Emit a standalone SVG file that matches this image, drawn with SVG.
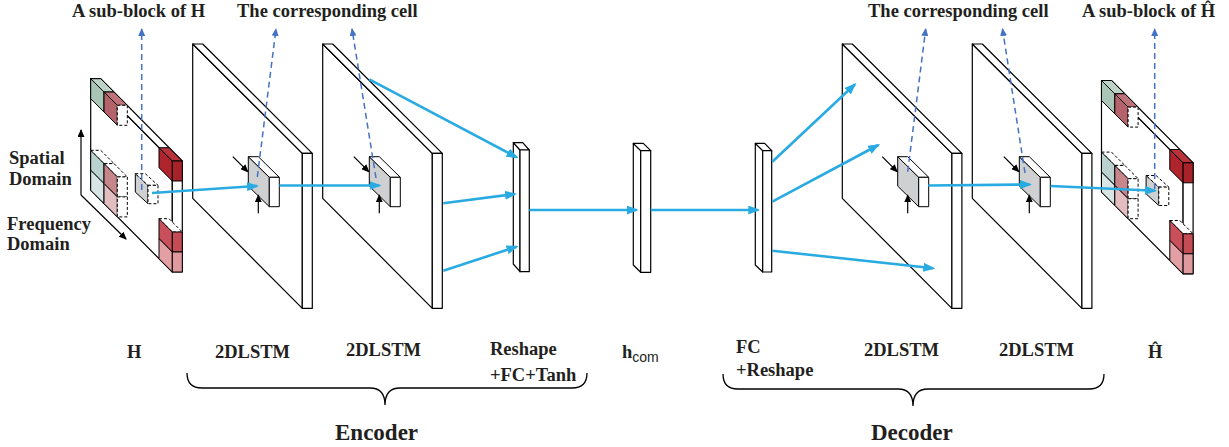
<svg xmlns="http://www.w3.org/2000/svg" width="1229" height="447" viewBox="0 0 1229 447">
<style>
.w{fill:#fff;stroke:#000;stroke-width:1.2;stroke-linejoin:round}
.f{stroke:#000;stroke-width:1;stroke-linejoin:round}
.d{fill:#fff;stroke:#000;stroke-width:1;stroke-dasharray:3,2}
.t{font-family:"Liberation Serif","Times New Roman",serif;font-weight:bold;fill:#231f20}
.top{font-size:18.5px}
.lab{font-size:18.5px}
.big{font-size:23px}
.blue{stroke:#29abe2;stroke-width:2.6;fill:none;marker-end:url(#ab)}
.dash{stroke:#4472c4;stroke-width:1.5;fill:none;stroke-dasharray:6,4;marker-end:url(#ad)}
.k{stroke:#000;stroke-width:1.2;fill:none;marker-end:url(#ak)}
.brace{fill:none;stroke:#000;stroke-width:1.3}
</style>
<defs>
<marker id="ab" markerUnits="userSpaceOnUse" markerWidth="12" markerHeight="9" refX="10" refY="4.5" orient="auto"><path d="M0,0 L12,4.5 L0,9 z" fill="#29abe2"/></marker>
<marker id="ad" markerUnits="userSpaceOnUse" markerWidth="8" markerHeight="7" refX="7" refY="3.5" orient="auto"><path d="M0,0 L8,3.5 L0,7 z" fill="#4472c4"/></marker>
<marker id="ak" markerUnits="userSpaceOnUse" markerWidth="8" markerHeight="7" refX="7" refY="3.5" orient="auto"><path d="M0,0 L8,3.5 L0,7 z" fill="#000"/></marker>
<g id="cubeShape">
<polygon class="w" points="0,0 81.6,82.3 81.6,193.3 0,111.3"/>
<polygon class="w" points="0,0 10,0 91.6,82.3 81.6,82.3"/>
<rect class="w" x="81.6" y="82.3" width="10" height="111"/>
<polygon class="f" fill="#a9c5b5" points="0,0 13.3,13.3 13.3,33.3 0,20"/>
<polygon class="f" fill="#bcd3c5" points="0,0 10,0 23.3,13.3 13.3,13.3"/>
<polygon class="f" fill="#b5636a" points="13.3,13.3 26.6,26.6 26.6,46.6 13.3,33.3"/>
<polygon class="f" fill="#c0727a" points="13.3,13.3 23.3,13.3 36.6,26.6 26.6,26.6"/>
<rect class="d" x="26.6" y="26.6" width="10" height="20"/>
<polygon class="d" points="0,71.6 10,71.6 23.3,84.9 13.3,84.9"/>
<polygon class="f" fill="#b9d2cf" points="0,71.6 13.3,84.9 13.3,104.9 0,91.6"/>
<polygon class="f" fill="#d7e5e5" points="0,91.6 13.3,104.9 13.3,124.9 0,111.6"/>
<polygon class="d" points="13.3,84.9 23.3,84.9 36.6,98.2 26.6,98.2"/>
<polygon class="f" fill="#c6868c" points="13.3,84.9 26.6,98.2 26.6,118.2 13.3,104.9"/>
<polygon class="f" fill="#e3bec1" points="13.3,104.9 26.6,118.2 26.6,138.2 13.3,124.9"/>
<rect class="d" x="26.6" y="98.2" width="10" height="20"/>
<rect class="d" x="26.6" y="118.2" width="10" height="20"/>
<polygon class="f" fill="#b0252d" points="68.3,69 81.6,82.3 81.6,102.3 68.3,89"/>
<polygon class="f" fill="#b9333b" points="68.3,69 78.3,69 91.6,82.3 81.6,82.3"/>
<rect class="f" fill="#a8222a" x="81.6" y="82.3" width="10" height="20"/>
<polygon class="d" points="68.3,140 78.3,140 91.6,153.3 81.6,153.3"/>
<polygon class="f" fill="#c9505a" points="68.3,140 81.6,153.3 81.6,173.3 68.3,160"/>
<polygon class="f" fill="#e3a0a4" points="68.3,160 81.6,173.3 81.6,193.3 68.3,180"/>
<rect class="f" fill="#c44c55" x="81.6" y="153.3" width="10" height="20"/>
<rect class="f" fill="#df9a9f" x="81.6" y="173.3" width="10" height="20"/>
<polygon class="f" fill="#cfd0d2" points="44.6,95 57.3,106.6 57.3,125 44.6,113.4"/>
<polygon class="d" points="44.6,95 54.6,95 67.3,106.6 57.3,106.6"/>
<rect class="d" x="57.3" y="106.6" width="10" height="18.4"/>
</g>
<g id="slabShape">
<polygon class="w" points="0,0 109.6,109.3 109.6,264.3 0,154.3"/>
<polygon class="w" points="0,0 10,0 119.6,109.3 109.6,109.3"/>
<rect class="w" x="109.6" y="109.3" width="10" height="155"/>
</g>
<g id="cellShape">
<polygon class="f" fill="#cfd0d2" points="0,0 21,20.6 21,50 0,29.4"/>
<polygon class="f" fill="#fff" points="0,0 10,0 31,20.6 21,20.6"/>
<rect class="f" fill="#fff" x="21" y="20.6" width="10" height="29.4"/>
<path class="k" d="M-15.5,0 L-0.5,15"/>
<path class="k" d="M10,56.5 L10,38.5"/>
</g>
</defs>

<g id="node-H">
<use href="#cubeShape" transform="translate(90.7,78.7)"/>
<path class="k" d="M81,195 L81,130"/>
<path class="k" d="M81,195 L126,239"/>
<text class="t lab" x="9" y="164">Spatial</text>
<text class="t lab" x="9" y="185">Domain</text>
<text class="t lab" x="7" y="230">Frequency</text>
<text class="t lab" x="7" y="250">Domain</text>
<text class="t top" x="72" y="17">A sub-block of H</text>
<text class="t lab" x="127" y="358">H</text>
</g>

<g id="node-enc-lstm1">
<use href="#slabShape" transform="translate(192.7,44)"/>
<use href="#cellShape" transform="translate(248.3,156.7)"/>
<text class="t lab" x="215" y="358">2DLSTM</text>
</g>
<g id="node-enc-lstm2">
<use href="#slabShape" transform="translate(322.7,44)"/>
<use href="#cellShape" transform="translate(369.3,156.7)"/>
<text class="t lab" x="346" y="356">2DLSTM</text>
</g>
<text class="t top" x="237" y="17">The corresponding cell</text>

<g id="node-reshape">
<polygon class="w" points="513.3,142.7 520,150 520,271.7 513.3,264"/>
<polygon class="w" points="513.3,142.7 522.7,142.7 529.3,150 520,150"/>
<rect class="w" x="520" y="150" width="9.3" height="121.7"/>
<text class="t lab" x="490" y="355">Reshape</text>
<text class="t lab" x="490" y="381">+FC+Tanh</text>
</g>

<g id="node-hcom">
<polygon class="w" points="633.3,143.3 640.7,150.7 640.7,272.3 633.3,265"/>
<polygon class="w" points="633.3,143.3 643.3,143.3 650.7,150.7 640.7,150.7"/>
<rect class="w" x="640.7" y="150.7" width="10" height="121.6"/>
<text class="t lab" x="622" y="358">h<tspan font-family="Liberation Sans, Arial, sans-serif" font-weight="normal" font-size="14" dy="4">com</tspan></text>
</g>

<g id="node-fc">
<polygon class="w" points="755.3,143.3 762.7,150.7 762.7,272 755.3,265"/>
<polygon class="w" points="755.3,143.3 764.7,143.3 771.7,150.7 762.7,150.7"/>
<rect class="w" x="762.7" y="150.7" width="9" height="121.3"/>
<text class="t lab" x="736" y="353">FC</text>
<text class="t lab" x="736" y="376">+Reshape</text>
</g>

<g id="node-dec-lstm1">
<use href="#slabShape" transform="translate(842.3,44)"/>
<use href="#cellShape" transform="translate(897.7,156.7)"/>
<text class="t lab" x="864" y="356">2DLSTM</text>
</g>
<g id="node-dec-lstm2">
<use href="#slabShape" transform="translate(972.3,44)"/>
<use href="#cellShape" transform="translate(1019.3,156.7)"/>
<text class="t lab" x="999" y="356">2DLSTM</text>
</g>
<text class="t top" x="868" y="17">The corresponding cell</text>

<g id="node-Hhat">
<use href="#cubeShape" transform="translate(1101.5,80.5)"/>
<text class="t top" x="1082" y="17">A sub-block of Ĥ</text>
<text class="t lab" x="1148" y="358">Ĥ</text>
</g>

<g id="connectors">
<path class="blue" d="M152,193 L257,186"/>
<path class="blue" d="M279.5,185.5 L379.5,185.5"/>
<path class="blue" d="M369.3,79.3 L516.7,157.3"/>
<path class="blue" d="M443.3,203.3 L515,194"/>
<path class="blue" d="M443.3,270.7 L516.7,246.7"/>
<path class="blue" d="M529.3,210 L636.7,210"/>
<path class="blue" d="M650.7,210 L758.3,210"/>
<path class="blue" d="M772.3,161.7 L855,84.3"/>
<path class="blue" d="M772.3,201.7 L878.3,145"/>
<path class="blue" d="M772.3,250.7 L933.3,268.3"/>
<path class="blue" d="M928.3,185.5 L1030,184.5"/>
<path class="blue" d="M1050.7,186 L1155,190.7"/>
<path class="dash" d="M141.7,190 L141.7,29"/>
<path class="dash" d="M257.3,177 L276,29"/>
<path class="dash" d="M376,178 L352,29"/>
<path class="dash" d="M907.7,171.7 L925.7,29"/>
<path class="dash" d="M1025,173 L1002.5,29"/>
<path class="dash" d="M1154.7,189 L1154.7,29"/>
</g>

<g id="brace-encoder">
<path class="brace" d="M187,373 Q187,388 202,388 L370,388 Q385,388 385,405 Q385,388 400,388 L572,388 Q587,388 587,373"/>
<text class="t big" x="335" y="440">Encoder</text>
</g>
<g id="brace-decoder">
<path class="brace" d="M723,374 Q723,389 738,389 L898,389 Q913,389 913,406 Q913,389 928,389 L1089,389 Q1104,389 1104,374"/>
<text class="t big" x="871" y="440">Decoder</text>
</g>
</svg>
